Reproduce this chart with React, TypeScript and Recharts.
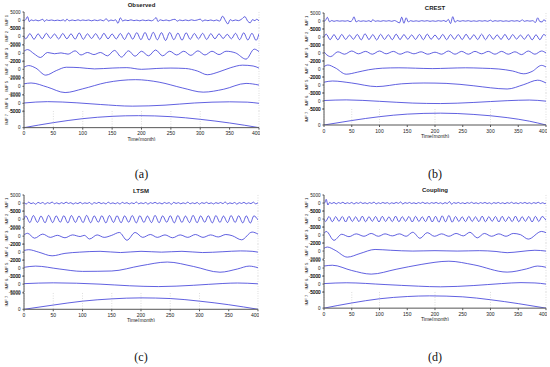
import React from 'react';
import { LineChart, Line, XAxis, YAxis, CartesianGrid } from 'recharts';

type Pt = [number, number];

const xTicks = [0, 50, 100, 150, 200, 250, 300, 350, 400];
const imfLabels = ['IMF 1', 'IMF 2', 'IMF 3', 'IMF 4', 'IMF 5', 'IMF 6', 'IMF 7'];
const imfTicks = [
  [-5000, 0, 5000],
  [-5000, 0, 5000],
  [-2000, 0, 2000],
  [-2000, 0, 2000],
  [-2000, 0, 2000],
  [-5000, 0, 5000],
  [0, 5000],
];

// ---- (a) Observed ----
const obsImf1: Pt[] = [[0,-500],[3,500],[6,2200],[9,-800],[12,300],[16,-200],[20,200],[24,-300],[28,100],[32,600],[35,-700],[38,300],[42,-100],[47,200],[52,-200],[57,100],[62,-200],[67,300],[70,-600],[73,700],[77,-300],[82,200],[87,-200],[92,300],[96,-200],[100,200],[105,-100],[110,200],[115,-300],[120,200],[125,-200],[130,300],[135,-300],[140,900],[144,-500],[148,200],[152,-200],[156,300],[160,-1800],[164,1500],[168,-400],[172,200],[177,-200],[182,300],[187,-200],[192,100],[197,-300],[202,200],[207,-200],[212,100],[217,-300],[221,400],[225,1600],[228,-700],[232,300],[237,-200],[242,200],[247,-300],[252,300],[257,600],[261,-500],[265,200],[270,-200],[275,200],[280,-200],[285,300],[290,-100],[295,200],[300,700],[304,-500],[308,200],[313,-200],[318,200],[323,-300],[328,200],[333,-500],[338,2500],[343,-300],[347,-2200],[351,400],[355,-300],[360,200],[365,-200],[370,600],[376,2200],[381,-600],[385,-1500],[389,400],[393,-200],[396,600],[400,-300]];
const obsImf2: Pt[] = [[0,0],[3,-1500],[10,1600],[17,-1800],[24,1500],[31,-1500],[38,1800],[45,-1200],[52,1400],[59,-1600],[66,1700],[73,-1500],[80,1500],[87,-1700],[94,2000],[101,-1800],[108,1500],[115,-1300],[122,1600],[129,-1800],[136,1800],[143,-1500],[150,1400],[157,-1600],[164,1700],[171,-1900],[178,2000],[185,-1700],[192,2200],[199,-2000],[206,2300],[213,-2200],[220,2400],[227,-2100],[234,2200],[241,-2500],[248,2300],[255,-2000],[262,1900],[269,-2300],[276,2100],[283,-1800],[290,1700],[297,-1600],[304,1800],[311,-1900],[318,1600],[325,-1500],[332,1500],[339,-1300],[346,1200],[353,-1500],[360,1800],[367,-2000],[374,2100],[381,-2200],[388,1800],[395,-2400],[400,1500]];
const obsImf3: Pt[] = [[0,500],[6,900],[17,-100],[28,-1000],[40,200],[52,-100],[63,100],[75,-200],[87,600],[97,-400],[108,200],[119,-300],[130,200],[142,-600],[154,700],[166,-900],[178,600],[189,-700],[200,500],[212,-600],[224,800],[236,-600],[248,500],[260,-400],[272,500],[284,-500],[296,600],[308,-400],[320,500],[332,-300],[344,500],[360,100],[378,-1400],[392,1000],[400,400]];
const obsImf4: Pt[] = [[0,500],[8,900],[20,300],[37,-1400],[55,-300],[72,500],[95,400],[120,100],[150,300],[175,400],[200,0],[225,200],[250,300],[275,200],[295,-400],[312,-1300],[332,-600],[352,400],[372,1000],[390,800],[400,300]];
const obsImf5: Pt[] = [[0,600],[12,800],[40,-200],[70,-1500],[100,-600],[140,900],[190,1600],[230,1000],[270,-400],[305,-1400],[340,-700],[378,700],[400,300]];
const obsImf6: Pt[] = [[0,200],[40,1000],[90,300],[130,-700],[185,-1700],[240,-1100],[290,200],[350,900],[380,700],[400,0]];
const obsImf7: Pt[] = [[0,0],[50,1500],[100,2700],[150,3400],[195,3600],[250,3300],[300,2500],[350,1400],[400,0]];

// ---- (b) CREST ----
const crestImf1: Pt[] = [[0,-300],[3,600],[6,2300],[10,-500],[14,300],[18,-200],[23,200],[28,-100],[33,100],[38,-100],[43,200],[47,-400],[51,500],[54,2600],[58,-600],[62,200],[66,-200],[71,100],[76,-200],[81,200],[85,-500],[88,900],[92,-200],[97,100],[102,-200],[107,200],[112,-100],[117,200],[122,-200],[127,300],[131,-300],[136,-1200],[140,2400],[144,-1400],[148,2000],[152,-600],[156,200],[161,-200],[166,100],[171,-200],[176,200],[181,-100],[186,200],[191,-200],[196,100],[201,-200],[206,200],[211,-100],[216,300],[220,-400],[224,1000],[228,-1600],[232,2700],[236,-800],[240,300],[245,-200],[250,200],[255,-100],[260,200],[265,-200],[270,100],[275,-200],[280,200],[285,-100],[290,200],[295,-200],[300,500],[304,-300],[308,200],[313,-100],[318,200],[323,-200],[328,100],[333,-200],[338,200],[343,-100],[348,200],[353,-300],[357,800],[361,-200],[366,200],[371,-100],[376,200],[381,-900],[385,2000],[389,-400],[393,-600],[396,700],[400,-200]];
const crestImf2: Pt[] = [[0,0],[4,1800],[11,-1700],[18,1500],[25,-1800],[32,1600],[39,-1500],[46,1200],[53,-1400],[60,1600],[67,-1800],[74,2000],[81,-1600],[88,1500],[95,-1900],[102,1700],[109,-1500],[116,1400],[123,-1700],[130,1800],[137,-1600],[144,1500],[151,-1400],[158,1300],[165,-1500],[172,1600],[179,-1700],[186,1800],[193,-1400],[200,1200],[207,-1500],[214,1600],[221,-1700],[228,1500],[235,-1400],[242,1500],[249,-1600],[256,1700],[263,-1500],[270,1400],[277,-1600],[284,1800],[291,-1700],[298,1500],[305,-1400],[312,1300],[319,-1500],[326,1600],[333,-1700],[340,1500],[347,-1300],[354,1200],[361,-1400],[368,1500],[375,-1800],[382,1400],[389,-1700],[396,1600],[400,500]];
const crestImf3: Pt[] = [[0,300],[3,-200],[12,-900],[25,300],[37,-300],[50,500],[62,-200],[75,400],[87,-300],[100,500],[112,-200],[125,400],[137,-300],[150,300],[162,-200],[175,300],[187,-300],[200,200],[212,-300],[224,500],[236,-300],[248,400],[260,-300],[272,400],[284,-200],[296,400],[308,-300],[320,400],[332,-300],[344,300],[356,-400],[368,500],[380,-300],[392,500],[400,0]];
const crestImf4: Pt[] = [[0,600],[7,1000],[20,300],[40,-1300],[60,-800],[80,-200],[105,200],[135,300],[165,200],[195,100],[225,200],[255,300],[285,200],[315,0],[340,-500],[360,-1200],[375,-600],[392,900],[400,500]];
const crestImf5: Pt[] = [[0,700],[15,1000],[50,500],[95,-400],[140,300],[180,500],[220,400],[270,-200],[300,-700],[330,-1000],[360,100],[385,1200],[400,500]];
const crestImf6: Pt[] = [[0,300],[40,700],[100,-200],[160,-1300],[210,-1600],[270,-900],[330,200],[370,600],[400,-100]];
const crestImf7: Pt[] = [[0,0],[50,1400],[100,2600],[150,3400],[210,3700],[270,3300],[330,2300],[370,1200],[400,0]];

// ---- (c) LTSM ----
const ltsmImf1: Pt[] = [[0,300],[4,-500],[8,600],[12,-300],[16,200],[20,-700],[24,500],[28,-200],[32,400],[36,-600],[40,300],[44,-200],[48,700],[52,-400],[56,200],[60,-500],[64,300],[68,-300],[72,600],[76,-200],[80,300],[84,-600],[88,200],[92,-300],[96,500],[100,-400],[104,200],[108,-200],[112,400],[116,-700],[120,300],[124,-200],[128,500],[132,-300],[136,200],[140,-500],[144,600],[148,-300],[152,200],[156,-400],[160,300],[164,-600],[168,500],[172,-200],[176,300],[180,-500],[184,200],[188,-300],[192,700],[196,-400],[200,200],[204,-300],[208,400],[212,-600],[216,300],[220,-200],[224,500],[228,-300],[232,200],[236,-500],[240,400],[244,-200],[248,300],[252,-700],[256,500],[260,-200],[264,300],[268,-400],[272,200],[276,-300],[280,600],[284,-400],[288,200],[292,-300],[296,400],[300,-600],[304,300],[308,-200],[312,500],[316,-300],[320,200],[324,-500],[328,300],[332,-200],[336,400],[340,-300],[344,700],[348,-500],[352,200],[356,-300],[360,400],[364,-600],[368,300],[372,-200],[376,500],[380,-400],[384,200],[388,-300],[392,600],[396,-400],[400,200]];
const ltsmImf2: Pt[] = [[0,0],[3,2000],[10,-2100],[16,2200],[23,-2000],[29,1900],[36,-2200],[42,2300],[49,-2100],[55,2000],[62,-1900],[68,2100],[75,-2300],[81,2200],[88,-2000],[94,1900],[101,-2100],[107,2300],[114,-2200],[120,2000],[127,-1900],[133,2100],[140,-2300],[146,2200],[153,-2000],[159,2100],[166,-2200],[172,2000],[179,-1900],[185,2200],[192,-2300],[198,2100],[205,-2000],[211,1900],[218,-2100],[224,2300],[231,-2200],[237,2000],[244,-1900],[250,2100],[257,-2300],[263,2200],[270,-2000],[276,1900],[283,-2100],[289,2300],[296,-2200],[302,2000],[309,-1900],[315,2100],[322,-2300],[328,2200],[335,-2000],[341,1900],[348,-2100],[354,2200],[361,-2000],[367,2100],[374,-2300],[380,2000],[387,-2400],[393,2000],[400,-500]];
const ltsmImf3: Pt[] = [[0,300],[6,700],[18,-500],[32,500],[45,-300],[57,200],[70,-400],[83,300],[96,-100],[103,200],[112,-700],[125,300],[137,-300],[150,200],[163,900],[176,-1000],[190,900],[203,-300],[216,400],[228,-300],[241,300],[254,-400],[267,300],[280,-300],[293,400],[306,-300],[319,300],[332,-200],[345,400],[356,100],[372,-900],[390,1000],[400,500]];
const ltsmImf4: Pt[] = [[0,400],[8,600],[25,0],[48,-900],[70,-300],[95,0],[130,200],[165,-100],[200,200],[235,0],[270,200],[305,-100],[340,100],[370,300],[390,200],[400,0]];
const ltsmImf5: Pt[] = [[0,200],[20,500],[60,-200],[100,-800],[150,-700],[200,600],[245,1500],[290,400],[335,-1000],[365,-200],[385,500],[400,100]];
const ltsmImf6: Pt[] = [[0,300],[50,800],[130,0],[180,-1000],[230,-1500],[290,-700],[340,400],[365,700],[400,200]];
const ltsmImf7: Pt[] = [[0,0],[50,1300],[100,2500],[150,3200],[200,3500],[250,3300],[300,2500],[350,1400],[400,0]];

// ---- (d) Coupling ----
const couplingImf1: Pt[] = [[0,-300],[2,600],[4,2300],[7,-1200],[10,400],[14,-300],[18,400],[22,-500],[26,300],[30,-200],[34,500],[38,-400],[42,200],[46,-300],[50,400],[54,-600],[58,300],[62,-200],[66,500],[70,-300],[74,200],[78,-400],[82,300],[86,-200],[90,600],[94,-500],[98,200],[102,-300],[106,400],[110,-200],[114,300],[118,-500],[122,200],[126,-300],[130,400],[134,-200],[138,700],[142,-600],[146,300],[150,-200],[154,400],[158,-300],[162,200],[166,-400],[170,300],[174,-200],[178,500],[182,-300],[186,200],[190,-400],[194,300],[198,-200],[202,400],[206,-300],[210,200],[214,-500],[218,300],[222,-300],[226,900],[230,-700],[234,300],[238,-200],[242,400],[246,-300],[250,200],[254,-400],[258,300],[262,-200],[266,500],[270,-300],[274,200],[278,-400],[282,300],[286,-200],[290,400],[294,-300],[298,200],[302,-500],[306,300],[310,-200],[314,400],[318,-300],[322,200],[326,-400],[330,300],[334,-200],[338,500],[342,-300],[346,200],[350,-400],[354,300],[358,-200],[362,400],[366,-300],[370,200],[374,-400],[378,300],[382,-200],[386,500],[390,-300],[394,200],[398,-400],[400,0]];
const couplingImf2: Pt[] = [[0,0],[3,-1500],[9,1600],[15,-1700],[21,1500],[27,-1400],[33,1600],[39,-1800],[45,1700],[51,-1500],[57,1400],[63,-1600],[69,1800],[75,-1700],[81,1500],[87,-1400],[93,1600],[99,-1800],[105,1700],[111,-1500],[117,1400],[123,-1600],[129,1800],[135,-1700],[141,1500],[147,-1400],[153,1600],[159,-1800],[165,1700],[171,-1500],[177,1400],[183,-1600],[189,1900],[195,-1800],[201,1700],[207,-1900],[213,2000],[219,-1700],[225,2200],[231,-1900],[237,1600],[243,-1500],[249,1400],[255,-1600],[261,1700],[267,-1500],[273,1400],[279,-1600],[285,1800],[291,-1700],[297,1500],[303,-1400],[309,1600],[315,-1800],[321,1700],[327,-1500],[333,1400],[339,-1600],[345,1800],[351,-1700],[357,1500],[363,-1400],[369,1600],[375,-1800],[381,1700],[387,-1500],[393,1600],[400,-800]];
const couplingImf3: Pt[] = [[0,400],[4,900],[18,-1300],[32,200],[45,-400],[58,300],[72,-300],[85,400],[98,-300],[110,300],[123,-200],[136,300],[148,-300],[160,700],[173,-800],[186,600],[199,-300],[212,300],[225,-300],[238,400],[251,-200],[263,700],[276,-700],[289,400],[302,-300],[315,300],[328,-300],[341,400],[354,100],[368,-1000],[392,900],[400,600]];
const couplingImf4: Pt[] = [[0,700],[6,1000],[20,200],[42,-1500],[65,-600],[92,400],[120,200],[160,0],[200,100],[240,0],[280,100],[310,-100],[330,-400],[355,-100],[380,200],[400,0]];
const couplingImf5: Pt[] = [[0,500],[15,700],[50,-600],[85,-1500],[130,-300],[175,900],[225,1700],[270,800],[330,-1000],[365,-200],[385,500],[400,200]];
const couplingImf6: Pt[] = [[0,300],[40,800],[110,-300],[170,-1300],[210,-1700],[270,-900],[320,300],[355,900],[380,700],[400,0]];
const couplingImf7: Pt[] = [[0,0],[50,1600],[100,2900],[150,3600],[190,3800],[250,3500],[300,2600],[350,1400],[400,0]];

const panels = [
  { title: 'Observed', caption: '(a)', left: 24, right: 259, top: 11.5, bottom: 128, titleY: 2, captionY: 167, series: [obsImf1, obsImf2, obsImf3, obsImf4, obsImf5, obsImf6, obsImf7] },
  { title: 'CREST', caption: '(b)', left: 324, right: 546, top: 13, bottom: 125, titleY: 5, captionY: 167, series: [crestImf1, crestImf2, crestImf3, crestImf4, crestImf5, crestImf6, crestImf7] },
  { title: 'LTSM', caption: '(c)', left: 24, right: 258, top: 195, bottom: 309, titleY: 188, captionY: 350, series: [ltsmImf1, ltsmImf2, ltsmImf3, ltsmImf4, ltsmImf5, ltsmImf6, ltsmImf7] },
  { title: 'Coupling', caption: '(d)', left: 324, right: 546, top: 195, bottom: 308, titleY: 187, captionY: 350, series: [couplingImf1, couplingImf2, couplingImf3, couplingImf4, couplingImf5, couplingImf6, couplingImf7] },
];

const YW = 22;
const PAD = 3;
const XH = 13;
const LINE = '#3838d8';
const AXIS = '#555';

const ImfLabel = ({ viewBox, text }: any) => {
  const cx = viewBox.x + 4;
  const cy = viewBox.y + viewBox.height / 2;
  return (
    <text x={cx} y={cy} transform={`rotate(-90 ${cx} ${cy})`} textAnchor="middle" dominantBaseline="central" fontSize={4.2} fill="#222">
      {text}
    </text>
  );
};

const SubPlot = ({ pts, i, plotW, h, x, y }: any) => {
  const last = i === 6;
  const ticks = imfTicks[i];
  const rows = pts.map(([t, v]: Pt) => ({ t, v }));
  return (
    <div style={{ position: 'absolute', left: x - YW, top: y - PAD }}>
      <LineChart width={YW + plotW + 1} height={h + PAD + (last ? XH : PAD)} margin={{ top: PAD, right: 1, bottom: last ? 0 : PAD, left: 0 }}>
        <CartesianGrid horizontal={false} stroke="#c8c8c8" strokeDasharray="1 1.5" strokeWidth={0.6} />
        <XAxis
          type="number"
          dataKey="t"
          domain={[0, 400]}
          ticks={xTicks}
          allowDataOverflow
          height={last ? XH : 0}
          tick={last ? { fontSize: 5, fill: '#222' } : false}
          tickLine={last}
          tickSize={2}
          stroke={AXIS}
          label={last ? { value: 'Time(month)', position: 'insideBottom', offset: 0, fontSize: 5, fill: '#222' } : undefined}
        />
        <XAxis xAxisId="top" orientation="top" type="number" domain={[0, 400]} height={0} tick={false} tickLine={false} stroke={AXIS} />
        <YAxis
          type="number"
          domain={[ticks[0], ticks[ticks.length - 1]]}
          ticks={ticks}
          interval={0}
          allowDataOverflow
          width={YW}
          tick={{ fontSize: 4.6, fill: '#222' }}
          tickSize={1.5}
          stroke={AXIS}
          label={<ImfLabel text={imfLabels[i]} />}
        />
        <YAxis yAxisId="r" orientation="right" width={0} domain={[0, 1]} tick={false} tickLine={false} stroke={AXIS} />
        <Line data={rows} dataKey="v" type="monotone" stroke={LINE} strokeWidth={0.8} dot={false} isAnimationActive={false} />
      </LineChart>
    </div>
  );
};

export default function App() {
  return (
    <div style={{ position: 'absolute', left: 0, top: 0, width: 550, height: 367, background: '#fff', fontFamily: '"Liberation Sans", Arial, sans-serif', overflow: 'hidden' }}>
      {panels.map((p) => {
        const plotW = p.right - p.left;
        const h = (p.bottom - p.top) / 7;
        const cx = (p.left + p.right) / 2;
        return (
          <React.Fragment key={p.title}>
            <div style={{ position: 'absolute', left: cx - 40, width: 80, top: p.titleY, textAlign: 'center', fontSize: 6, fontWeight: 'bold', color: '#222', lineHeight: '7px' }}>
              {p.title}
            </div>
            {p.series.map((pts, i) => (
              <SubPlot key={i} pts={pts} i={i} plotW={plotW} h={h} x={p.left} y={p.top + i * h} />
            ))}
            <div style={{ position: 'absolute', left: cx - 30, width: 60, top: p.captionY, textAlign: 'center', fontSize: 12, fontFamily: '"Liberation Serif", serif', color: '#111', lineHeight: '14px' }}>
              {p.caption}
            </div>
          </React.Fragment>
        );
      })}
    </div>
  );
}
